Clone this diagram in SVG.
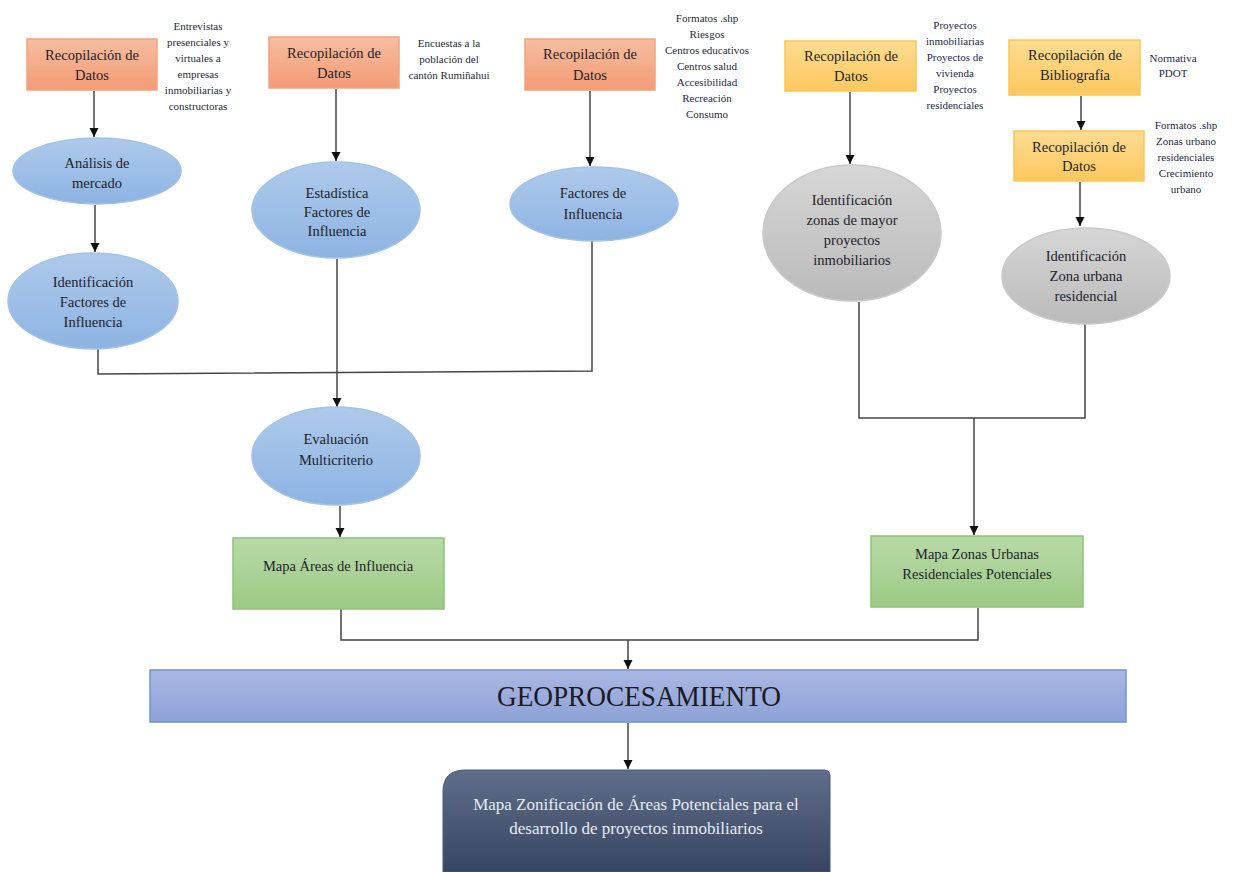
<svg xmlns="http://www.w3.org/2000/svg" width="1233" height="872" viewBox="0 0 1233 872">
<defs>
<linearGradient id="gSal" x1="0" y1="0" x2="0" y2="1"><stop offset="0" stop-color="#f7bda1"/><stop offset="1" stop-color="#f39b74"/></linearGradient>
<linearGradient id="gYel" x1="0" y1="0" x2="0" y2="1"><stop offset="0" stop-color="#fddc92"/><stop offset="1" stop-color="#fcc85e"/></linearGradient>
<linearGradient id="gBlu" x1="0" y1="0" x2="0" y2="1"><stop offset="0" stop-color="#aecaeb"/><stop offset="1" stop-color="#8db3e2"/></linearGradient>
<linearGradient id="gGry" x1="0" y1="0" x2="0" y2="1"><stop offset="0" stop-color="#d6d6d6"/><stop offset="1" stop-color="#bababa"/></linearGradient>
<linearGradient id="gGrn" x1="0" y1="0" x2="0" y2="1"><stop offset="0" stop-color="#b9d9a8"/><stop offset="1" stop-color="#9bcb84"/></linearGradient>
<linearGradient id="gGeo" x1="0" y1="0" x2="0" y2="1"><stop offset="0" stop-color="#aab7e3"/><stop offset="1" stop-color="#8ea1d6"/></linearGradient>
<linearGradient id="gFin" x1="0" y1="0" x2="0" y2="1"><stop offset="0" stop-color="#5f6e8a"/><stop offset="1" stop-color="#384560"/></linearGradient>
<marker id="arr" markerUnits="userSpaceOnUse" markerWidth="10" markerHeight="10" refX="9" refY="5" orient="auto"><path d="M0,0.5 L9,5 L0,9.5 z" fill="#111"/></marker>
</defs>
<style>
.sal{fill:url(#gSal);stroke:#f4a27c;stroke-width:1.5}
.yel{fill:url(#gYel);stroke:#fcc654;stroke-width:1.5}
.blu{fill:url(#gBlu);stroke:#a3c2e8;stroke-width:1.5}
.gry{fill:url(#gGry);stroke:#c9c9c9;stroke-width:1.5}
.grn{fill:url(#gGrn);stroke:#8fc27a;stroke-width:1.5}
.t{font-family:"Liberation Serif",serif;font-size:14.5px;fill:#1e1e2a;text-anchor:middle}
.n{font-family:"Liberation Serif",serif;font-size:11px;fill:#1f2944;text-anchor:middle}
.c{fill:none;stroke:#444;stroke-width:1.5}
</style>
<rect width="1233" height="872" fill="#ffffff"/>

<g id="connectors">
<line class="c" x1="94" y1="91" x2="94" y2="137" marker-end="url(#arr)"/>
<line class="c" x1="95" y1="205" x2="95" y2="252" marker-end="url(#arr)"/>
<line class="c" x1="336" y1="89" x2="336" y2="161" marker-end="url(#arr)"/>
<line class="c" x1="590" y1="91" x2="590" y2="166" marker-end="url(#arr)"/>
<polyline class="c" points="98,349 98,374 592,371 592,241"/>
<line class="c" x1="337" y1="259" x2="337" y2="407" marker-end="url(#arr)"/>
<line class="c" x1="340" y1="506" x2="340" y2="537" marker-end="url(#arr)"/>
<line class="c" x1="850" y1="92" x2="850" y2="164" marker-end="url(#arr)"/>
<line class="c" x1="1081" y1="96" x2="1081" y2="130" marker-end="url(#arr)"/>
<line class="c" x1="1080" y1="182" x2="1080" y2="226" marker-end="url(#arr)"/>
<polyline class="c" points="859,302 859,418 1085,418 1085,324"/>
<line class="c" x1="974" y1="418" x2="974" y2="535" marker-end="url(#arr)"/>
<polyline class="c" points="341,609 341,640 978,640 978,608"/>
<line class="c" x1="628" y1="640" x2="628" y2="669" marker-end="url(#arr)"/>
<line class="c" x1="628" y1="723" x2="628" y2="769" marker-end="url(#arr)"/>
</g>

<g id="n1">
<rect class="sal" x="27" y="39" width="130" height="51"/>
<text class="t" x="92" y="60">Recopilación de</text>
<text class="t" x="92" y="80">Datos</text>
<text class="n" x="198" y="30">Entrevistas</text>
<text class="n" x="198" y="46">presenciales y</text>
<text class="n" x="198" y="62">virtuales a</text>
<text class="n" x="198" y="78">empresas</text>
<text class="n" x="198" y="94">inmobiliarias y</text>
<text class="n" x="198" y="110">constructoras</text>
</g>

<g id="n2">
<rect class="sal" x="269" y="37" width="130" height="51"/>
<text class="t" x="334" y="58">Recopilación de</text>
<text class="t" x="334" y="78">Datos</text>
<text class="n" x="449" y="47">Encuestas a la</text>
<text class="n" x="449" y="63">población del</text>
<text class="n" x="449" y="79">cantón Rumiñahui</text>
</g>

<g id="n3">
<rect class="sal" x="525" y="39" width="130" height="51"/>
<text class="t" x="590" y="59">Recopilación de</text>
<text class="t" x="590" y="80">Datos</text>
<text class="n" x="707" y="22">Formatos .shp</text>
<text class="n" x="707" y="38">Riesgos</text>
<text class="n" x="707" y="54">Centros educativos</text>
<text class="n" x="707" y="70">Centros salud</text>
<text class="n" x="707" y="86">Accesibilidad</text>
<text class="n" x="707" y="102">Recreación</text>
<text class="n" x="707" y="118">Consumo</text>
</g>

<g id="n4">
<rect class="yel" x="785" y="41" width="131" height="50"/>
<text class="t" x="851" y="61">Recopilación de</text>
<text class="t" x="851" y="81">Datos</text>
<text class="n" x="955" y="29">Proyectos</text>
<text class="n" x="955" y="45">inmobiliarias</text>
<text class="n" x="955" y="61">Proyectos de</text>
<text class="n" x="955" y="77">vivienda</text>
<text class="n" x="955" y="93">Proyectos</text>
<text class="n" x="955" y="109">residenciales</text>
</g>

<g id="n5">
<rect class="yel" x="1009" y="40" width="131" height="55"/>
<text class="t" x="1075" y="60">Recopilación de</text>
<text class="t" x="1075" y="80">Bibliografía</text>
<text class="n" x="1173" y="62">Normativa</text>
<text class="n" x="1173" y="77">PDOT</text>
</g>

<g id="n6">
<rect class="yel" x="1014" y="131" width="130" height="50"/>
<text class="t" x="1079" y="152">Recopilación de</text>
<text class="t" x="1079" y="171">Datos</text>
<text class="n" x="1186" y="129">Formatos .shp</text>
<text class="n" x="1186" y="145">Zonas urbano</text>
<text class="n" x="1186" y="161">residenciales</text>
<text class="n" x="1186" y="177">Crecimiento</text>
<text class="n" x="1186" y="193">urbano</text>
</g>

<g id="e1">
<ellipse class="blu" cx="97" cy="171" rx="84" ry="33"/>
<text class="t" x="97" y="168">Análisis de</text>
<text class="t" x="97" y="188">mercado</text>
</g>

<g id="e2">
<ellipse class="blu" cx="93" cy="301" rx="85" ry="48"/>
<text class="t" x="93" y="287">Identificación</text>
<text class="t" x="93" y="307">Factores de</text>
<text class="t" x="93" y="327">Influencia</text>
</g>

<g id="e3">
<ellipse class="blu" cx="336" cy="210" rx="84" ry="48"/>
<text class="t" x="337" y="198">Estadística</text>
<text class="t" x="337" y="217">Factores de</text>
<text class="t" x="337" y="236">Influencia</text>
</g>

<g id="e4">
<ellipse class="blu" cx="594" cy="204" rx="84" ry="37"/>
<text class="t" x="593" y="198">Factores de</text>
<text class="t" x="593" y="219">Influencia</text>
</g>

<g id="e5">
<ellipse class="gry" cx="852" cy="233" rx="89" ry="68"/>
<text class="t" x="852" y="205">Identificación</text>
<text class="t" x="852" y="225">zonas de mayor</text>
<text class="t" x="852" y="245">proyectos</text>
<text class="t" x="852" y="265">inmobiliarios</text>
</g>

<g id="e6">
<ellipse class="gry" cx="1086" cy="276" rx="84" ry="48"/>
<text class="t" x="1086" y="261">Identificación</text>
<text class="t" x="1086" y="281">Zona urbana</text>
<text class="t" x="1086" y="301">residencial</text>
</g>

<g id="e7">
<ellipse class="blu" cx="336" cy="456" rx="84" ry="49"/>
<text class="t" x="336" y="444">Evaluación</text>
<text class="t" x="336" y="465">Multicriterio</text>
</g>

<g id="m1">
<rect class="grn" x="233" y="538" width="211" height="71"/>
<text class="t" x="338" y="571">Mapa Áreas de Influencia</text>
</g>

<g id="m2">
<rect class="grn" x="871" y="536" width="212" height="71"/>
<text class="t" x="977" y="559">Mapa Zonas Urbanas</text>
<text class="t" x="977" y="579">Residenciales Potenciales</text>
</g>

<g id="geo">
<rect x="150" y="670" width="976" height="52" fill="url(#gGeo)" stroke="#7393d2" stroke-width="1.5"/>
<text x="639" y="706" font-family="Liberation Serif, serif" font-size="30" fill="#1a1a24" text-anchor="middle" textLength="284" lengthAdjust="spacingAndGlyphs">GEOPROCESAMIENTO</text>
</g>

<g id="final">
<path d="M443,872 L443,792 Q443,770 465,770 L824,770 Q830,770 830,776 L830,872 Z" fill="url(#gFin)" stroke="#4a5875" stroke-width="1"/>
<text x="636" y="810" font-family="Liberation Serif, serif" font-size="17" fill="#e6ecf5" text-anchor="middle">Mapa Zonificación de Áreas Potenciales para el</text>
<text x="636" y="834" font-family="Liberation Serif, serif" font-size="17" fill="#e6ecf5" text-anchor="middle">desarrollo de proyectos inmobiliarios</text>
</g>
</svg>
